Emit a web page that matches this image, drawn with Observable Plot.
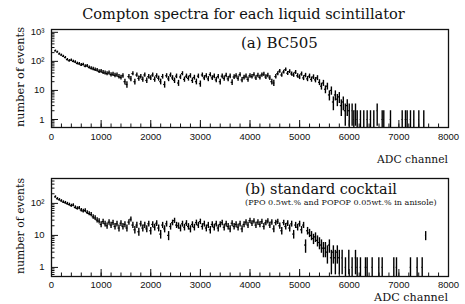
<!DOCTYPE html>
<html><head><meta charset="utf-8">
<script src="https://cdn.jsdelivr.net/npm/d3@7"></script>
<script src="https://cdn.jsdelivr.net/npm/@observablehq/plot@0.6"></script>
<style>
body{margin:0;background:#fff;}
#wrap{position:relative;width:465px;height:304px;overflow:hidden;}
#pa,#pb,#ov{position:absolute;left:0;}
#pa{top:0;} #pb{top:168px;} #ov{top:0;}
</style></head><body>
<div id="wrap"><div id="pa"></div><div id="pb"></div></div>
<script>
// ---- data ----
const binStart = 60;          // first bin lower edge (ADC channel)
const binWidth = 40;          // channels per bin
const countsA = [
230,210,180,165,150,135,115,105,110,100,
95,85,82,75,78,68,70,62,58,55,
52,50,45,46,42,40,38,40,35,36,
33,34,30,28,32,20,16,30,25,38,
20,34,26,30,24,34,22,30,27,34,
24,32,26,20,30,16,32,25,34,27,
22,31,18,29,38,24,31,26,32,22,
28,20,31,17,34,27,32,25,35,27,
31,23,30,20,31,26,33,25,31,19,
29,32,26,35,23,28,31,24,32,30,
35,27,33,28,34,36,29,33,27,20,
18,30,38,46,34,43,52,39,45,37,
34,42,32,29,37,27,33,25,31,24,
29,23,27,19,14,18,11,14,7,10,
4,7,5,6,3,4,2,3,2];
const tailChannelsA = [6058,6092,6126,6160,6226,6293,6361,6428,6495,6563,6664,6696,6831,7067,7133,7167,7234,7301,7402,7502];
const tailCountsA   = [2,1,2,1,1,1,1,1,1,2,1,1,1,1,1,1,1,1,1,1];

const countsB = [
160,140,130,120,110,105,98,92,85,88,
75,70,72,62,58,60,52,48,45,38,
35,30,28,22,27,23,20,26,21,25,
19,23,17,24,19,22,17,26,32,21,
15,21,13,23,17,21,16,23,14,22,
18,24,17,11,21,16,23,10,19,25,
29,21,20,17,23,18,24,19,16,22,
18,25,21,27,19,23,17,21,15,22,
18,23,17,22,25,18,23,19,16,24,
19,22,18,23,16,22,26,21,29,24,
28,21,26,22,27,19,25,28,21,26,
16,25,27,20,14,25,19,24,17,23,
11,21,18,23,15,21,5,14,12,10,
8,9,7,6,5,4,4,3,5,2,
3,2,3,2];
const tailChannelsB = [5857,5924,5991,6058,6126,6160,6226,6327,6361,6462,6596,6664,6898,6952,7234,7368,7470,7540];
const tailCountsB   = [2,1,2,1,2,1,1,1,1,1,1,1,1,1,1,1,1,10];

const xTickValues = [0,1000,2000,3000,4000,5000,6000,7000,8000];
const yTickValuesA = [1,10,100,1000];
const yTickValuesB = [1,10,100];
const yDomainA = [0.53,1250];
const yDomainB = [0.52,600];

const titleText = "Compton spectra for each liquid scintillator";
const labelA = "(a) BC505";
const labelB = "(b) standard cocktail";
const subLabelB = "(PPO 0.5wt.% and POPOP 0.05wt.% in anisole)";
const xLabel = "ADC channel";
const yLabel = "number of events";

// ---- helpers ----
function rows(counts, tailCh, tailCt){
  const r = counts.map((v,i)=>({x: binStart + (i+0.5)*binWidth, v, half: binWidth/2}));
  tailCh.forEach((c,i)=>r.push({x:c, v:tailCt[i], half:5}));
  return r;
}
const sup = {2:"\u00b2",3:"\u00b3"};
const fmtLog = d => d >= 100 ? "10" + sup[Math.round(Math.log10(d))] : String(d);
const xMinor = d3.range(0, 8001, 200);
function logMinor(dom){
  const out=[];
  for (let e=-1;e<=3;e++) for (let m=2;m<=9;m++){const v=m*10**e; if(v>dom[0]&&v<dom[1]) out.push(v);}
  return out;
}

function panel(data, yDom, yTicks, height, mt, mb, pad){
  const frameH = height - mt - mb;
  const frameW = 465 - 51 - 17;
  const lo = d => Math.max(d.v - Math.sqrt(d.v), yDom[0]);
  const hi = d => d.v + Math.sqrt(d.v);
  return Plot.plot({
    width:465, height, marginLeft:51, marginRight:17, marginTop:mt, marginBottom:mb,
    style:{fontFamily:"'Liberation Sans', Arial, sans-serif", fontSize:"9.5px", color:"#111", background:"transparent"},
    x:{domain:[0,8000]},
    y:{type:"log", domain:yDom},
    marks:[
      Plot.ruleX(data,{x:"x", y1:lo, y2:hi, stroke:"#000", strokeWidth:1.4, clip:true}),
      Plot.ruleY(data,{y:"v", x1:d=>d.x-d.half, x2:d=>d.x+d.half, stroke:"#000", strokeWidth:1.2, clip:true}),
      Plot.tickX(xTickValues,{x:d=>d, insetTop:frameH-7, stroke:"#111"}),
      Plot.tickX(xMinor,{x:d=>d, insetTop:frameH-3.5, stroke:"#111"}),
      Plot.tickY(yTicks,{y:d=>d, insetRight:frameW-7, stroke:"#111"}),
      Plot.tickY(logMinor(yDom),{y:d=>d, insetRight:frameW-3.5, stroke:"#111"}),
      Plot.axisX(xTickValues,{tickSize:0, tickPadding:pad, tickFormat:d=>String(d), label:null}),
      Plot.axisY(yTicks,{tickSize:0, tickPadding:7, tickFormat:fmtLog, label:null}),
      Plot.frame({stroke:"#111", strokeWidth:1.3})
    ]
  });
}

document.getElementById("pa").append(panel(rows(countsA,tailChannelsA,tailCountsA), yDomainA, yTickValuesA, 168, 29, 41, 6));
document.getElementById("pb").append(panel(rows(countsB,tailChannelsB,tailCountsB), yDomainB, yTickValuesB, 136, 10, 28, 5));

// ---- text overlay (fitted to the reference's text widths) ----
const ov = d3.select("#wrap").append("svg").attr("id","ov").attr("width",465).attr("height",304);
function addText(str, {x, y, anchor="start", width, rotate=0}){
  const t = ov.append("text").text(str)
    .attr("text-anchor", anchor)
    .attr("font-family", "'DejaVu Serif', serif")
    .attr("font-size", 12).attr("fill", "#111")
    .attr("transform", `translate(${x},${y}) rotate(${rotate})`);
  const len = t.node().getComputedTextLength();
  t.attr("font-size", 12*width/len);
}
addText(titleText, {x:243.5, y:19, anchor:"middle", width:323});
addText(labelA, {x:241, y:48, width:77});
addText(labelB, {x:245, y:194, width:152});
addText(subLabelB, {x:245, y:204.5, width:192});
addText(xLabel, {x:448, y:163, anchor:"end", width:71});
addText(xLabel, {x:448, y:301, anchor:"end", width:74});
addText(yLabel, {x:24, y:77, anchor:"middle", width:100, rotate:-90});
addText(yLabel, {x:24, y:226, anchor:"middle", width:96, rotate:-90});
</script>
</body></html>
